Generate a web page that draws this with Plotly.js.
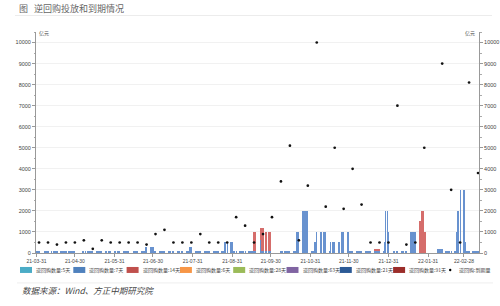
<!DOCTYPE html>
<html><head><meta charset="utf-8">
<script src="https://cdn.plot.ly/plotly-3.0.1.min.js"></script>
<style>html,body{margin:0;padding:0;background:#fff}#chart{width:500px;height:306px}</style>
</head><body><div id="chart"></div>
<script>
// ---- calendar (China interbank) ----
const holidays = ['2021-04-05','2021-05-03','2021-05-04','2021-05-05','2021-06-14','2021-09-20','2021-09-21',
  '2021-10-01','2021-10-04','2021-10-05','2021-10-06','2021-10-07','2022-01-03',
  '2022-01-31','2022-02-01','2022-02-02','2022-02-03','2022-02-04'];
const makeupWorkdays = ['2021-04-25','2021-05-08','2021-09-18','2021-09-26','2021-10-09','2022-01-29','2022-01-30'];

// ---- 7-day reverse repo: daily amount over runs of trading days (亿元) ----
const rr7Start = ['2021-03-31','2021-06-24','2021-06-28','2021-07-01','2021-07-29','2021-08-02','2021-08-25','2021-09-01','2021-09-17','2021-09-22','2021-09-23',
  '2021-10-08','2021-10-20','2021-10-25','2021-11-01','2021-11-03','2021-11-05','2021-11-08','2021-11-15','2021-11-16','2021-11-22','2021-11-24','2021-11-29',
  '2021-12-01','2021-12-28','2021-12-29','2021-12-31','2022-01-04','2022-01-17','2022-02-07','2022-02-14','2022-02-22','2022-02-23','2022-02-25','2022-03-01','2022-03-02'];
const rr7End   = ['2021-06-23','2021-06-25','2021-06-30','2021-07-28','2021-07-30','2021-08-24','2021-08-31','2021-09-16','2021-09-18','2021-09-22','2021-09-30',
  '2021-10-19','2021-10-22','2021-10-29','2021-11-02','2021-11-04','2021-11-05','2021-11-12','2021-11-15','2021-11-19','2021-11-23','2021-11-26','2021-11-30',
  '2021-12-27','2021-12-28','2021-12-30','2021-12-31','2022-01-14','2022-01-21','2022-02-11','2022-02-21','2022-02-22','2022-02-24','2022-02-28','2022-03-01','2022-03-11'];
const rr7Value = [100,300,300,100,300,100,500,100,100,600,100,
  100,1000,2000,100,500,1000,1000,100,500,500,1000,1000,
  100,500,2000,1000,100,1000,200,100,1000,2000,3000,500,100];

// ---- 14-day reverse repo ----
const rr14Start = ['2021-09-17','2021-09-22','2021-09-23','2021-09-26','2021-12-20','2022-01-24','2022-01-26','2022-01-28'];
const rr14End   = ['2021-09-18','2021-09-22','2021-09-24','2021-09-30','2021-12-24','2022-01-25','2022-01-27','2022-01-29'];
const rr14Value = [900,600,1100,900,100,1500,2000,1000];

// ---- weekly maturities (逆回购:到期量) ----
const expiryDates = ['2021-04-02','2021-04-09','2021-04-16','2021-04-23','2021-04-30','2021-05-07','2021-05-14','2021-05-21','2021-05-28',
  '2021-06-04','2021-06-11','2021-06-18','2021-06-25','2021-07-02','2021-07-09','2021-07-16','2021-07-23','2021-07-30',
  '2021-08-06','2021-08-13','2021-08-20','2021-08-27','2021-09-03','2021-09-10','2021-09-17','2021-09-24',
  '2021-10-01','2021-10-08','2021-10-15','2021-10-22','2021-10-29','2021-11-05','2021-11-12','2021-11-19','2021-11-26',
  '2021-12-03','2021-12-10','2021-12-17','2021-12-24','2021-12-31','2022-01-07','2022-01-14','2022-01-21','2022-01-28',
  '2022-02-11','2022-02-18','2022-02-25','2022-03-04','2022-03-11'];
const expiryValues = [500,500,400,500,500,600,200,600,500,
  500,500,500,400,900,1100,500,500,500,
  900,500,500,500,1700,1300,500,900,
  1700,3400,5100,600,3200,10000,2200,5000,2100,
  4000,2300,500,500,500,7000,400,500,5000,
  9000,3000,500,8100,3800];

const tickDates = ['2021-03-31','2021-04-30','2021-05-31','2021-06-30','2021-07-31','2021-08-31','2021-09-30','2021-10-31','2021-11-30','2021-12-31','2022-01-31','2022-02-28'];
const tickLabels = ['21-03-31','21-04-30','21-05-31','21-06-30','21-07-31','21-08-31','21-09-30','21-10-31','21-11-30','21-12-31','22-01-31','22-02-28'];

const legendLabels = ['逆回购数量:5天','逆回购数量:7天','逆回购数量:14天','逆回购数量:6天','逆回购数量:28天','逆回购数量:63天','逆回购数量:21天','逆回购数量:91天','逆回购:到期量'];
const legendColors = ['#4bacc6','#4f81bd','#c0504d','#f79646','#9bbb59','#8064a2','#2c5a95','#9b2d2a','#000'];

// ---- helpers ----
function tradingDays(s, e) {
  const out = [];
  let t = Date.parse(s + 'T00:00:00Z');
  const end = Date.parse(e + 'T00:00:00Z');
  while (t <= end) {
    const d = new Date(t);
    const iso = d.toISOString().slice(0, 10);
    const wd = d.getUTCDay();
    if ((wd >= 1 && wd <= 5 && holidays.indexOf(iso) < 0) || makeupWorkdays.indexOf(iso) >= 0) out.push(iso);
    t += 86400000;
  }
  return out;
}
function expand(starts, ends, vals) {
  const x = [], y = [];
  starts.forEach((s, i) => tradingDays(s, ends[i]).forEach(d => { x.push(d); y.push(vals[i]); }));
  return {x, y};
}
const s7 = expand(rr7Start, rr7End, rr7Value);
const s14 = expand(rr14Start, rr14End, rr14Value);

const DAY = 86400000;
const traces = [
  {type:'bar', x:s7.x, y:s7.y, name:legendLabels[1], width:DAY*0.92, marker:{color:'#6892cf', line:{width:0}}, showlegend:false, xaxis:'x', yaxis:'y'},
  {type:'bar', x:s14.x, y:s14.y, name:legendLabels[2], width:DAY*0.92, marker:{color:'#d56d6b', line:{width:0}}, showlegend:false, xaxis:'x', yaxis:'y'},
  {type:'scatter', mode:'markers', x:expiryDates, y:expiryValues, name:legendLabels[8], marker:{color:'#111', size:2.7}, showlegend:false, xaxis:'x', yaxis:'y2'}
];

// pixel -> paper helpers (plot area: x 36..479, y 31.5..253)
const L = 36, R = 479, T = 31.5, B = 253;
const px = v => (v - L) / (R - L);
const py = v => (B - v) / (B - T);

const shapes = [
  {type:'line', xref:'paper', yref:'paper', x0:px(15), x1:px(492), y0:py(15), y1:py(15), line:{color:'#ececec', width:1}},
  {type:'line', xref:'paper', yref:'paper', x0:px(17), x1:px(493), y0:py(283), y1:py(283), line:{color:'#eeeeee', width:1}}
];
const annotations = [
  {xref:'paper', yref:'paper', x:px(17), y:py(7.5), xanchor:'left', yanchor:'middle', showarrow:false, text:'图', font:{family:'Noto Sans CJK SC', size:9, color:'#666'}},
  {xref:'paper', yref:'paper', x:px(32), y:py(7.5), xanchor:'left', yanchor:'middle', showarrow:false, text:'逆回购投放和到期情况', font:{family:'Noto Sans CJK SC', size:9, color:'#666'}},
  {xref:'paper', yref:'paper', x:px(37), y:py(32.5), xanchor:'left', yanchor:'middle', showarrow:false, text:'亿元', font:{family:'Noto Sans CJK SC', size:5, color:'#555'}},
  {xref:'paper', yref:'paper', x:px(477), y:py(32.5), xanchor:'right', yanchor:'middle', showarrow:false, text:'亿元', font:{family:'Noto Sans CJK SC', size:5, color:'#555'}},
  {xref:'paper', yref:'paper', x:px(20), y:py(290.5), xanchor:'left', yanchor:'middle', showarrow:false, text:'<i>数据来源：Wind、方正中期研究院</i>', font:{family:'Noto Sans CJK SC', size:8.5, color:'#444'}}
];
const pitch = 53.3;
legendLabels.forEach((lab, i) => {
  const x0 = 20 + i * pitch;
  if (i < 8) {
    shapes.push({type:'rect', xref:'paper', yref:'paper', x0:px(x0), x1:px(x0 + 12), y0:py(273), y1:py(267), fillcolor:legendColors[i], line:{width:0}});
    annotations.push({xref:'paper', yref:'paper', x:px(x0 + 14), y:py(270), xanchor:'left', yanchor:'middle', showarrow:false, text:lab, font:{family:'Noto Sans CJK SC', size:5, color:'#444'}});
  } else {
    shapes.push({type:'circle', xref:'paper', yref:'paper', x0:px(449), x1:px(451.4), y0:py(271.2), y1:py(268.8), fillcolor:'#000', line:{width:0}});
    annotations.push({xref:'paper', yref:'paper', x:px(457), y:py(270), xanchor:'left', yanchor:'middle', showarrow:false, text:lab, font:{family:'Noto Sans CJK SC', size:5, color:'#444'}});
  }
});

const yCommon = {range:[0,10500], tick0:0, dtick:1000, tickformat:'d', ticks:'outside', ticklen:3, tickcolor:'#999', showline:true, linecolor:'#999', linewidth:1,
  tickfont:{family:'Liberation Sans', size:5.5, color:'#444'}, zeroline:false, fixedrange:true,
  minor:{ticks:'outside', ticklen:1.5, dtick:500, tickcolor:'#aaa', showgrid:false}};

const layout = {
  width:500, height:306, margin:{l:L, r:500-R, t:T, b:306-B, pad:0},
  paper_bgcolor:'#fff', plot_bgcolor:'#fff', barmode:'stack', bargap:0, showlegend:false,
  font:{family:'Noto Sans CJK SC', color:'#444'},
  xaxis:{type:'date', range:['2021-03-30 15:00','2022-03-11 18:00'], tickmode:'array', tickvals:tickDates, ticktext:tickLabels,
    ticks:'outside', ticklen:3, tickcolor:'#999', showline:true, linecolor:'#999', linewidth:1, showgrid:false, zeroline:false,
    tickfont:{family:'Liberation Sans', size:5, color:'#444'}, fixedrange:true},
  yaxis:Object.assign({}, yCommon, {side:'left', showgrid:true, gridcolor:'#f1f1f1', gridwidth:1}),
  yaxis2:Object.assign({}, yCommon, {side:'right', overlaying:'y', showgrid:false}),
  shapes, annotations
};
Plotly.newPlot('chart', traces, layout, {displayModeBar:false, staticPlot:true});
</script>
</body></html>
